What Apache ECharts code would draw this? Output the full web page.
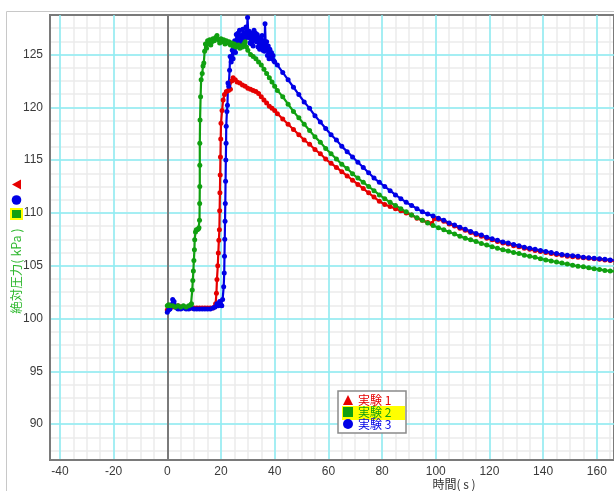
<!DOCTYPE html>
<html><head><meta charset="utf-8">
<script src="https://cdn.jsdelivr.net/npm/echarts@6/dist/echarts.min.js"></script>
<style>html,body{margin:0;padding:0;background:#fff}#c{width:614px;height:491px}</style>
</head><body><div id="c"></div>
<script>
const seriesNames = ['実験 1', '実験 2', '実験 3'];
const seriesColors = ['#e60000', '#10a010', '#0000e6'];
const xName = '時間( s )';
const yName = '絶対圧力( kPa )';
const xMajorTicks = [-40, -20, 0, 20, 40, 60, 80, 100, 120, 140, 160];
const xMinorTicks = [-40, -35, -30, -25, -20, -15, -10, -5, 0, 5, 10, 15, 20, 25, 30, 35, 40, 45, 50, 55, 60, 65, 70, 75, 80, 85, 90, 95, 100, 105, 110, 115, 120, 125, 130, 135, 140, 145, 150, 155, 160, 165];
const yMajorTicks = [90, 95, 100, 105, 110, 115, 120, 125];
const yMinorTicks = [87.5, 88.75, 90, 91.25, 92.5, 93.75, 95, 96.25, 97.5, 98.75, 100, 101.25, 102.5, 103.75, 105, 106.25, 107.5, 108.75, 110, 111.25, 112.5, 113.75, 115, 116.25, 117.5, 118.75, 120, 121.25, 122.5, 123.75, 125, 126.25, 127.5];

// 実験 1 (red)
const exp1 = [[0,100.8],[0.5,101.1],[1,101.2],[2,101.1],[3,101.1],[4,101.2],[5,101.1],[6,101.1],[7,101.0],[8,101.1],[9,101.0],[10,101.0],[11,101.0],[12,101.0],[13,101.0],[14,101.0],[15,101.0],[16,101.0],[17,101.0],[17.6,101.1],[18.0,101.4],[18.3,102.4],[18.5,103.7],[18.8,105.0],[19.0,106.2],[19.2,107.4],[19.4,108.4],[19.5,110.2],[19.6,111.9],[19.7,113.6],[19.8,115.3],[19.9,117.0],[20.0,118.5],[20.4,119.7],[20.8,120.7],[21.3,121.2],[22.0,121.5],[22.8,121.6],[23.5,121.7],[24.0,122.5],[24.5,122.8],[25.3,122.6],[26.0,122.4],[27.0,122.3],[28.0,122.1],[29.0,122.0],[30.0,121.8],[31.0,121.7],[32.0,121.6],[33.0,121.5],[34.0,121.3],[35.0,121.0],[36.0,120.7],[37.0,120.4],[38.0,120.1],[39.0,119.9],[40.0,119.7],[41,119.4],[43,118.9],[45,118.4],[47,117.9],[49,117.4],[51,116.9],[53,116.5],[55,116.0],[57,115.6],[59,115.1],[61,114.7],[63,114.3],[65,113.9],[67,113.5],[69,113.1],[71,112.7],[73,112.3],[75,111.9],[77,111.5],[79,111.1],[81,110.8],[83,110.6],[85,110.4],[87,110.2],[89,110.0],[91,109.8],[93,109.5],[95,109.3],[97,109.1],[98.5,109.0],[99.5,109.45],[101,109.4],[103,109.2],[105,108.95],[107,108.75],[109,108.55],[111,108.35],[113,108.15],[115,107.95],[117,107.8],[119,107.6],[121,107.45],[123,107.3],[125,107.15],[127,107.05],[129,106.9],[131,106.8],[133,106.65],[135,106.55],[137,106.45],[139,106.35],[141,106.25],[143,106.15],[145,106.05],[147,106.0],[149,105.9],[151,105.85],[153,105.8],[155,105.75],[157,105.7],[159,105.65],[161,105.6],[163,105.55],[165,105.5],[167,105.45]];

// 実験 2 (green)
const exp2 = [[0,101.2],[0.5,101.3],[1,101.2],[2,101.2],[3,101.1],[4,101.2],[5,101.1],[6,101.2],[7,101.1],[8,101.2],[8.8,101.3],[9.0,101.4],[9.3,102.7],[9.5,103.6],[9.7,104.5],[9.9,105.5],[10.1,106.5],[10.2,107.45],[10.5,108.2],[10.8,108.4],[11.2,108.4],[11.6,108.5],[11.8,108.6],[12.0,109.3],[12.05,110.9],[12.1,112.5],[12.1,114.5],[12.1,116.6],[12.2,118.8],[12.4,121.0],[12.6,122.6],[13.0,123.2],[13.3,123.9],[13.6,124.2],[13.9,125.3],[14.2,126.0],[14.6,125.6],[15.0,126.3],[15.4,126.0],[15.8,126.4],[16.2,125.9],[16.6,126.2],[17.0,126.5],[17.5,126.3],[18.0,126.6],[18.5,126.8],[19.0,126.4],[19.5,126.1],[20.0,126.5],[20.5,126.2],[21.0,126.4],[21.5,126.0],[22.0,126.3],[22.5,126.1],[23.0,126.2],[23.5,125.9],[24.0,126.1],[24.5,125.8],[25.0,126.0],[25.5,125.7],[26.0,125.8],[26.5,125.9],[27.0,125.6],[27.5,125.8],[28.0,125.7],[28.5,126.0],[29.0,126.2],[29.5,125.7],[30.0,125.4],[31.0,125.0],[32.0,124.8],[33.0,124.6],[34.0,124.3],[35.0,124.0],[36.0,123.6],[37.0,123.2],[38.0,122.8],[39.0,122.4],[40.0,122.0],[41,121.6],[43,121.0],[45,120.3],[47,119.6],[49,119.0],[51,118.4],[53,117.8],[55,117.2],[57,116.7],[59,116.1],[61,115.6],[63,115.1],[65,114.6],[67,114.2],[69,113.7],[71,113.3],[73,112.9],[75,112.5],[77,112.1],[79,111.7],[81,111.35],[83,111.0],[85,110.7],[87,110.4],[89,110.1],[91,109.8],[93,109.55],[95,109.3],[97,109.05],[99,108.8],[101,108.6],[103,108.4],[105,108.2],[107,108.0],[109,107.8],[111,107.6],[113,107.45],[115,107.3],[117,107.1],[119,106.95],[121,106.8],[123,106.65],[125,106.5],[127,106.4],[129,106.25],[131,106.15],[133,106.0],[135,105.9],[137,105.8],[139,105.65],[141,105.55],[143,105.45],[145,105.35],[147,105.25],[149,105.15],[151,105.05],[153,104.95],[155,104.9],[157,104.8],[159,104.7],[161,104.65],[163,104.55],[165,104.5],[167,104.45]];

// 実験 3 (blue)
const exp3 = [[0,100.6],[0.5,100.8],[1,100.9],[1.5,101.3],[2,101.8],[2.5,101.6],[3,101.2],[3.5,101.0],[4,100.9],[5,100.9],[6,101.0],[7,100.9],[8,100.9],[9,101.0],[10,100.9],[11,100.9],[12,100.9],[13,100.9],[14,100.9],[15,100.9],[16,100.9],[17,101.0],[17.8,101.1],[18.5,101.4],[19,101.2],[19.5,101.6],[20,101.3],[20.3,101.2],[20.6,101.8],[21.0,103.0],[21.2,104.3],[21.3,105.9],[21.4,107.5],[21.5,109.2],[21.6,110.9],[21.7,113.0],[21.8,115.0],[21.9,116.6],[21.95,118.2],[22.2,119.6],[22.4,120.2],[22.6,122.3],[22.9,122.0],[23.2,123.5],[23.4,124.8],[23.8,124.3],[24.2,125.4],[24.5,124.6],[24.8,125.9],[25.1,126.3],[25.4,125.2],[25.7,126.9],[26.0,126.1],[26.3,127.0],[26.6,125.8],[26.9,127.3],[27.2,126.4],[27.5,125.7],[27.8,126.8],[28.1,127.4],[28.4,126.2],[28.7,127.0],[29.0,126.5],[29.3,127.6],[29.6,126.8],[29.9,128.5],[30.2,126.6],[30.5,127.2],[30.8,126.1],[31.1,127.0],[31.4,126.0],[31.7,126.9],[32.0,125.8],[32.3,127.3],[32.6,126.4],[32.9,127.0],[33.2,126.2],[33.5,126.9],[33.8,125.7],[34.1,126.6],[34.4,125.5],[34.7,126.4],[35.0,125.6],[35.3,126.8],[35.6,125.4],[35.9,126.3],[36.2,125.3],[36.4,127.9],[36.7,125.6],[37.0,126.2],[37.3,124.9],[37.6,125.8],[37.9,124.6],[38.2,125.5],[38.5,124.8],[38.8,125.2],[39.1,124.6],[39.4,124.9],[39.7,124.4],[40.0,124.3],[41,124.0],[43,123.3],[45,122.6],[47,121.9],[49,121.2],[51,120.5],[53,119.9],[55,119.2],[57,118.6],[59,118.0],[61,117.4],[63,116.9],[65,116.3],[67,115.8],[69,115.3],[71,114.8],[73,114.3],[75,113.8],[77,113.3],[79,112.9],[81,112.5],[83,112.1],[85,111.7],[87,111.35],[89,111.0],[91,110.7],[93,110.4],[95,110.1],[97,109.9],[99,109.7],[101,109.5],[103,109.3],[105,109.05],[107,108.85],[109,108.65],[111,108.45],[113,108.25],[115,108.05],[117,107.9],[119,107.7],[121,107.55],[123,107.4],[125,107.25],[127,107.15],[129,107.0],[131,106.9],[133,106.75],[135,106.65],[137,106.55],[139,106.45],[141,106.35],[143,106.25],[145,106.15],[147,106.05],[149,106.0],[151,105.95],[153,105.9],[155,105.8],[157,105.75],[159,105.7],[161,105.65],[163,105.6],[165,105.55],[167,105.5]];

const xMin = -43.7, xMax = 166.4;
const yMin = 86.6, yMax = 128.74;
const FONT = '"Noto Sans CJK JP", "Liberation Sans", sans-serif';
const majorColor = '#8ceef4';
const minorColor = '#ebebeb';

function mkSeries(idx, data, z) {
  return {
    name: seriesNames[idx], type: 'line', data: data,
    xAxisIndex: 0, yAxisIndex: 0, z: z,
    symbol: 'circle', symbolSize: 5, showSymbol: true,
    lineStyle: { color: seriesColors[idx], width: 2.2 },
    itemStyle: { color: seriesColors[idx] },
    animation: false, silent: true
  };
}
const s1 = mkSeries(0, exp1, 2);
s1.markLine = { silent: true, symbol: 'none', z: 1, label: { show: false },
  lineStyle: { color: '#7a7a7a', width: 2, type: 'solid' }, data: [{ xAxis: 0 }] };

const chart = echarts.init(document.getElementById('c'), null, { renderer: 'canvas' });
chart.setOption({
  animation: false,
  grid: { left: 50, top: 15, right: -5, bottom: 31, show: true, borderColor: '#7a7a7a', borderWidth: 2, backgroundColor: 'transparent' },
  xAxis: [
    { type: 'value', min: xMin, max: xMax, position: 'bottom',
      axisLine: { show: true, onZero: false, lineStyle: { color: '#7a7a7a', width: 2 } },
      axisTick: { show: false, customValues: xMajorTicks },
      axisLabel: { customValues: xMajorTicks, color: '#3a3a3a', fontSize: 12, margin: 6, fontFamily: '"Liberation Sans", sans-serif' },
      splitLine: { show: true, lineStyle: { color: majorColor, width: 1.5 } } },
    { type: 'value', min: xMin, max: xMax, position: 'top', z: -1,
      axisLine: { show: false }, axisTick: { show: false, customValues: xMinorTicks },
      axisLabel: { show: false, customValues: xMinorTicks },
      splitLine: { show: true, lineStyle: { color: minorColor, width: 1.5 } } }
  ],
  yAxis: [
    { type: 'value', min: yMin, max: yMax, position: 'left',
      axisLine: { show: true, onZero: false, lineStyle: { color: '#7a7a7a', width: 2 } },
      axisTick: { show: false, customValues: yMajorTicks },
      axisLabel: { customValues: yMajorTicks, color: '#3a3a3a', fontSize: 12, margin: 7, fontFamily: '"Liberation Sans", sans-serif' },
      splitLine: { show: true, lineStyle: { color: majorColor, width: 1.5 } } },
    { type: 'value', min: yMin, max: yMax, position: 'right', z: -1,
      axisLine: { show: false }, axisTick: { show: false, customValues: yMinorTicks },
      axisLabel: { show: false, customValues: yMinorTicks },
      splitLine: { show: true, lineStyle: { color: minorColor, width: 1.5 } } }
  ],
  legend: {
    orient: 'vertical', left: 343, top: 394, z: 4,
    itemWidth: 10, itemHeight: 10, itemGap: 0, selectedMode: false,
    backgroundColor: 'transparent', borderWidth: 0, padding: 0,
    textStyle: { fontSize: 12, lineHeight: 12, fontFamily: FONT },
    data: [
      { name: seriesNames[0], icon: 'triangle', textStyle: { color: seriesColors[0] } },
      { name: seriesNames[1], icon: 'rect', textStyle: { color: seriesColors[1] } },
      { name: seriesNames[2], icon: 'circle', textStyle: { color: seriesColors[2] } }
    ]
  },
  graphic: [
    { type: 'polyline', z: 0, silent: true, shape: { points: [[6.5, 491], [6.5, 11.5], [614, 11.5]] }, style: { stroke: '#c8c8c8', lineWidth: 1, fill: null } },
    { type: 'rect', z: 3, silent: true, shape: { x: 338, y: 391, width: 68, height: 42 }, style: { fill: '#fff', stroke: '#8a8a8a', lineWidth: 1.5 } },
    { type: 'rect', z: 3, z2: 5, silent: true, shape: { x: 342, y: 406, width: 63, height: 14 }, style: { fill: '#ffff00' } },
    { type: 'text', z: 5, silent: true, x: 16, y: 271, rotation: Math.PI / 2,
      style: { text: yName, fill: '#2eb82e', font: '12.5px ' + FONT, align: 'center', verticalAlign: 'middle', textAlign: 'center', textVerticalAlign: 'middle' } },
    { type: 'polygon', z: 5, silent: true, shape: { points: [[12, 184.5], [21, 179.5], [21, 189.5]] }, style: { fill: seriesColors[0] } },
    { type: 'circle', z: 5, silent: true, shape: { cx: 16.5, cy: 200, r: 4.8 }, style: { fill: seriesColors[2] } },
    { type: 'rect', z: 5, silent: true, shape: { x: 11, y: 209, width: 11, height: 10 }, style: { fill: seriesColors[1], stroke: '#ffff00', lineWidth: 2 } },
    { type: 'text', z: 5, silent: true, x: 454, y: 484,
      style: { text: xName, fill: '#333', font: '12px ' + FONT, align: 'center', verticalAlign: 'middle', textAlign: 'center', textVerticalAlign: 'middle' } }
  ],
  series: [ s1, mkSeries(2, exp3, 2), mkSeries(1, exp2, 2) ]
});
</script>
</body></html>
